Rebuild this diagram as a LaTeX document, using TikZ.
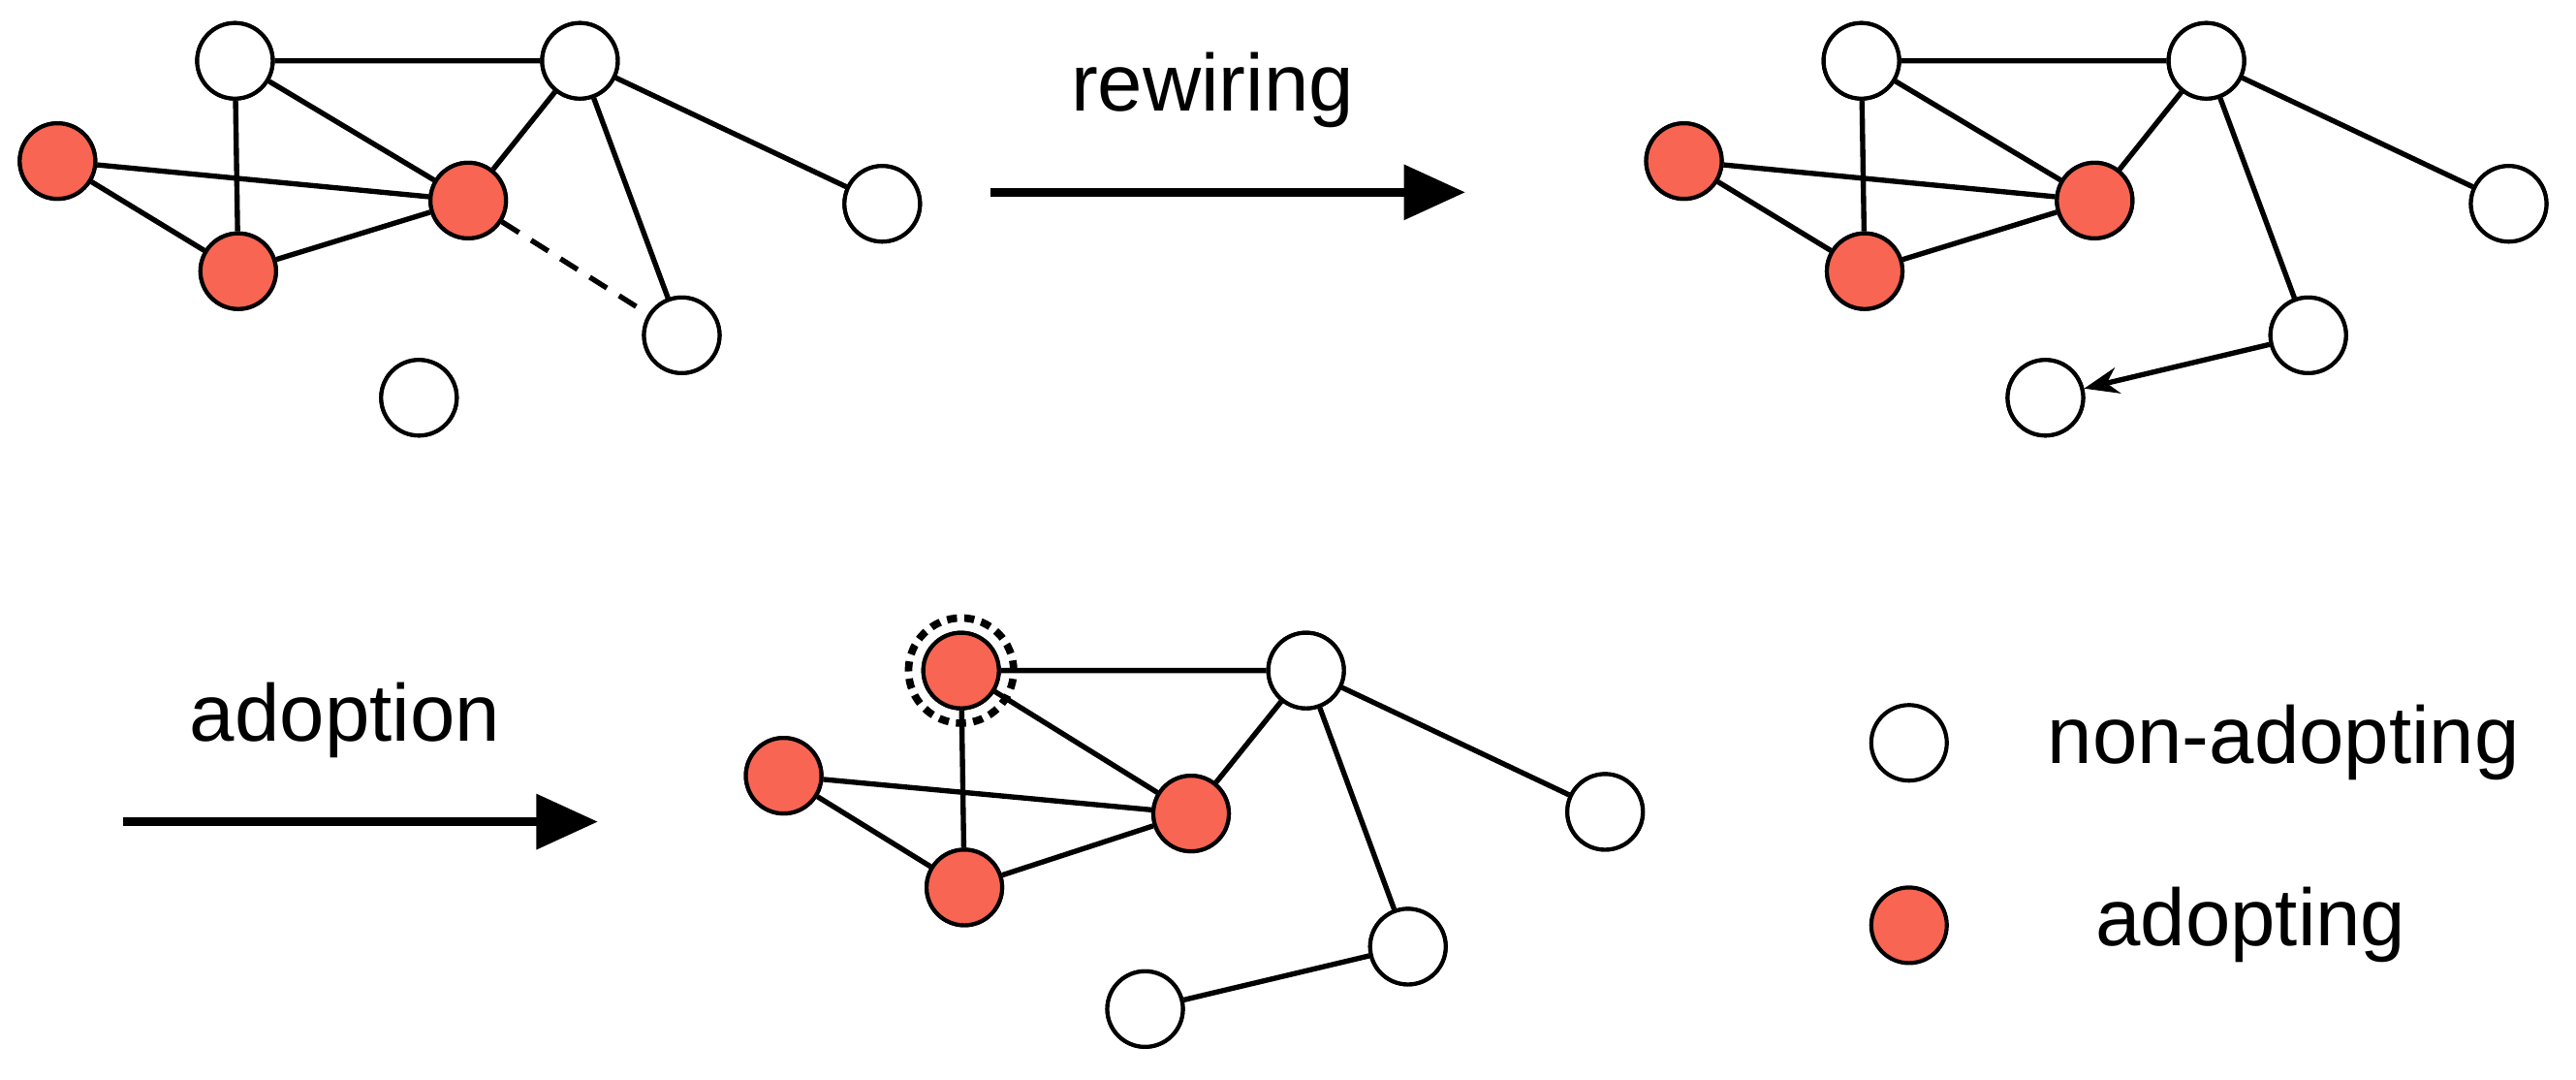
\documentclass[tikz,border=0pt]{standalone}
\usepackage{fontspec}
\setmainfont{Liberation Sans}
\usetikzlibrary{arrows.meta}
\definecolor{adopt}{HTML}{F86552}
\begin{document}
\begin{tikzpicture}[x=0.02cm,y=-0.02cm,
  nd/.style={circle,draw,line width=1.4pt,minimum size=0.92cm,inner sep=0pt,fill=white},
  rd/.style={nd,fill=adopt},
  ed/.style={line width=1.8pt},
  big/.style={line width=3.2pt,-{Triangle[length=0.75cm,width=0.65cm]}},
  lab/.style={font=\fontsize{28}{32}\selectfont}]
\useasboundingbox (0,0) rectangle (1568,657);
% panel 1
\foreach \p/\dx/\dy in {a/0/0}{}
\node[nd] (a1) at (143,37) {}; \node[nd] (b1) at (353,37) {};
\node[rd] (c1) at (35,98) {}; \node[rd] (d1) at (285,122) {};
\node[rd] (e1) at (145,165) {}; \node[nd] (f1) at (537,124) {};
\node[nd] (g1) at (415,204) {}; \node[nd] (h1) at (255,242) {};
\begin{scope}[on background layer/.style={}]
\end{scope}
\draw[ed] (a1)--(b1) (a1)--(e1) (a1)--(d1) (b1)--(d1) (b1)--(g1) (b1)--(f1) (c1)--(d1) (c1)--(e1) (e1)--(d1);
\draw[ed,dash pattern=on 7pt off 5pt] (d1)--(g1);
% panel 2
\node[nd] (a2) at (1133,37) {}; \node[nd] (b2) at (1343,37) {};
\node[rd] (c2) at (1025,98) {}; \node[rd] (d2) at (1275,122) {};
\node[rd] (e2) at (1135,165) {}; \node[nd] (f2) at (1527,124) {};
\node[nd] (g2) at (1405,204) {}; \node[nd] (h2) at (1245,242) {};
\draw[ed] (a2)--(b2) (a2)--(e2) (a2)--(d2) (b2)--(d2) (b2)--(g2) (b2)--(f2) (c2)--(d2) (c2)--(e2) (e2)--(d2);
\draw[ed,-{Stealth[length=0.42cm,width=0.32cm]}] (g2)--(h2);
% panel 3
\node[rd] (a3) at (585,408) {}; \node[nd] (b3) at (795,408) {};
\node[rd] (c3) at (477,472) {}; \node[rd] (d3) at (725,495) {};
\node[rd] (e3) at (587,540) {}; \node[nd] (f3) at (977,494) {};
\node[nd] (g3) at (857,576) {}; \node[nd] (h3) at (697,614) {};
\draw[ed] (a3)--(b3) (a3)--(e3) (a3)--(d3) (b3)--(d3) (b3)--(g3) (b3)--(f3) (c3)--(d3) (c3)--(e3) (e3)--(d3) (g3)--(h3);
\node[circle,draw,line width=2.6pt,dash pattern=on 3.5pt off 2.5pt,minimum size=1.28cm] (ring) at (a3) {};
% redraw nodes on top of edges
\foreach \n in {a1,b1,f1,g1,h1,a2,b2,f2,g2,h2,b3,f3,g3,h3}{\node[nd] at (\n) {};}
\foreach \n in {c1,d1,e1,c2,d2,e2,a3,c3,d3,e3}{\node[rd] at (\n) {};}
% arrows
\coordinate (r0) at (603,117); \coordinate (r1) at (892,117);
\draw[big] (r0)--(r1);
\node[lab] (rw) at (738,55) {rewiring};
\coordinate (s0) at (75,500); \coordinate (s1) at (364,500);
\draw[big] (s0)--(s1);
\node[lab] (ad) at (210,438) {adoption};
% legend
\node[nd] (l1) at (1162,452) {}; \node[lab] (t1) at (1390,452) {non-adopting};
\node[rd] (l2) at (1162,563) {}; \node[lab] (t2) at (1370,563) {adopting};
\end{tikzpicture}
\end{document}
